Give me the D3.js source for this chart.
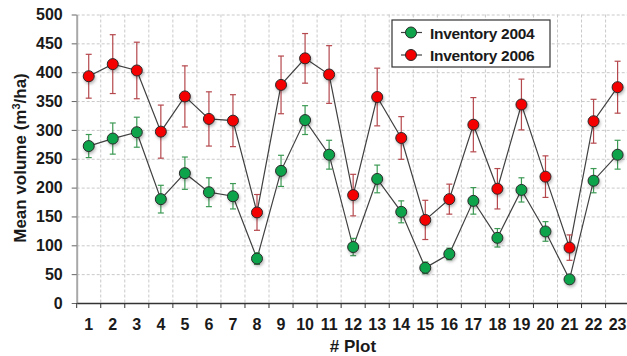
<!DOCTYPE html>
<html>
<head>
<meta charset="utf-8">
<script src="https://cdn.jsdelivr.net/npm/d3@7"></script>
<style>
  html, body { margin: 0; padding: 0; background: #fff; }
  svg { display: block; font-family: "Liberation Sans", Arial, sans-serif; }
</style>
</head>
<body>
<svg id="chart" width="627" height="356"></svg>
<script>
// Plot numbers along the x axis
const plots = ["1","2","3","4","5","6","7","8","9","10","11","12","13","14","15","16","17","18","19","20","21","22","23"];

// Mean standing volume (m3/ha) per plot and its error (half bar length)
const mean2004 = [272, 285, 296, 180, 225, 192, 185, 77, 229, 317, 257, 97, 215, 158, 61, 85, 177, 113, 196, 124, 41, 212, 257];
const err2004  = [20, 27, 26, 24, 28, 25, 22, 10, 27, 25, 25, 15, 24, 19, 10, 10, 23, 16, 21, 17, 7, 21, 25];
const mean2006 = [393, 414, 403, 297, 358, 319, 316, 157, 378, 424, 396, 187, 357, 286, 144, 180, 309, 198, 344, 219, 96, 315, 374];
const err2006  = [38, 51, 49, 46, 53, 47, 45, 31, 50, 43, 50, 36, 50, 37, 34, 26, 47, 35, 44, 36, 22, 38, 45];

const yTicks = [0, 50, 100, 150, 200, 250, 300, 350, 400, 450, 500];
const seriesNames = ["Inventory 2004", "Inventory 2006"];

const svg = d3.select("#chart");
const plotLeft = 76.7, plotBottom = 303, plotTop = 14.5, bandW = 24.04;

const x = d3.scaleBand().domain(plots).range([plotLeft, plotLeft + bandW * plots.length]).padding(0);
const y = d3.scaleLinear().domain([0, 500]).range([plotBottom, plotTop]);

// soft drop shadow under markers
const defs = svg.append("defs");
const f = defs.append("filter").attr("id", "shadow").attr("x", "-50%").attr("y", "-50%").attr("width", "200%").attr("height", "200%");
f.append("feDropShadow").attr("dx", 1).attr("dy", 2).attr("stdDeviation", 1.6)
  .attr("flood-color", "#000").attr("flood-opacity", 0.28);

// grid
const grid = svg.append("g").attr("stroke", "#c9c9c9").attr("stroke-width", 1).attr("stroke-dasharray", "3,2");
grid.selectAll("line.h").data(yTicks.filter(d => d > 0)).join("line")
  .attr("x1", plotLeft).attr("x2", x.range()[1])
  .attr("y1", d => y(d) + 0.5).attr("y2", d => y(d) + 0.5);
grid.selectAll("line.v").data(plots.slice(1)).join("line")
  .attr("x1", d => x(d)).attr("x2", d => x(d))
  .attr("y1", plotTop).attr("y2", plotBottom);

// y axis
const yAxis = svg.append("g").attr("transform", `translate(${plotLeft},0)`)
  .call(d3.axisLeft(y).tickValues(yTicks).tickSize(5).tickPadding(9).tickSizeOuter(0));
yAxis.select(".domain").attr("stroke", "#a8a8a8").attr("stroke-width", 2);
yAxis.selectAll(".tick line").attr("stroke", "#666");
yAxis.selectAll("text").attr("font-size", 16).attr("font-weight", "bold").attr("fill", "#1a1a1a")
  .attr("font-family", "'Liberation Sans', Arial, sans-serif");

// x axis: labels centred on plots, ticks on plot boundaries
const xAxis = svg.append("g").attr("transform", `translate(0,${plotBottom})`)
  .call(d3.axisBottom(x).tickSize(0).tickPadding(16).tickSizeOuter(0));
xAxis.select(".domain").attr("stroke", "#333").attr("stroke-width", 1.5);
xAxis.selectAll("text").attr("font-size", 16).attr("font-weight", "bold").attr("fill", "#1a1a1a")
  .attr("font-family", "'Liberation Sans', Arial, sans-serif");
svg.append("g").selectAll("line").data(plots).join("line")
  .attr("x1", d => x(d)).attr("x2", d => x(d))
  .attr("y1", plotBottom).attr("y2", plotBottom + 5)
  .attr("stroke", "#333").attr("stroke-width", 1);

// axis titles
const yTitle = svg.append("text")
  .attr("transform", `translate(26,158) rotate(-90)`)
  .attr("text-anchor", "middle").attr("font-size", 17).attr("font-weight", "bold").attr("fill", "#1a1a1a");
yTitle.append("tspan").text("Mean volume (m");
yTitle.append("tspan").text("3").attr("font-size", 11).attr("dy", -6);
yTitle.append("tspan").text("/ha)").attr("dy", 6);

svg.append("text").attr("x", 353).attr("y", 352).attr("text-anchor", "middle")
  .attr("font-size", 17).attr("font-weight", "bold").attr("fill", "#1a1a1a").text("# Plot");

// series
const series = [
  { name: seriesNames[0], mean: mean2004, err: err2004, fill: "#0fa34c", bar: "#3d9a55" },
  { name: seriesNames[1], mean: mean2006, err: err2006, fill: "#f40000", bar: "#b5484d" }
];
const cx = d => x(d) + x.bandwidth() / 2;
const line = d3.line().x(d => cx(d.p)).y(d => y(d.v));

series.forEach(s => {
  const pts = plots.map((p, i) => ({ p, v: s.mean[i], e: s.err[i] }));
  const g = svg.append("g");
  g.append("path").datum(pts).attr("d", line)
    .attr("fill", "none").attr("stroke", "#404040").attr("stroke-width", 1.2);
  const eb = g.append("g").attr("stroke", s.bar).attr("stroke-width", 1.2);
  eb.selectAll("line.v").data(pts).join("line")
    .attr("x1", d => cx(d.p)).attr("x2", d => cx(d.p))
    .attr("y1", d => y(d.v + d.e)).attr("y2", d => y(d.v - d.e));
  eb.selectAll("line.t").data(pts).join("line")
    .attr("x1", d => cx(d.p) - 3).attr("x2", d => cx(d.p) + 3)
    .attr("y1", d => y(d.v + d.e)).attr("y2", d => y(d.v + d.e));
  eb.selectAll("line.b").data(pts).join("line")
    .attr("x1", d => cx(d.p) - 3).attr("x2", d => cx(d.p) + 3)
    .attr("y1", d => y(d.v - d.e)).attr("y2", d => y(d.v - d.e));
  g.selectAll("circle").data(pts).join("circle")
    .attr("cx", d => cx(d.p)).attr("cy", d => y(d.v)).attr("r", 5.5)
    .attr("fill", s.fill).attr("stroke", "#2a2a2a").attr("stroke-width", 1)
    .attr("filter", "url(#shadow)");
});

// legend
const lg = svg.append("g").attr("transform", "translate(392,20)");
lg.append("rect").attr("width", 158).attr("height", 47).attr("fill", "#fff")
  .attr("stroke", "#333").attr("stroke-width", 1.2);
series.forEach((s, i) => {
  const row = lg.append("g").attr("transform", `translate(0,${12.5 + i * 22.5})`);
  row.append("line").attr("x1", 9).attr("x2", 30).attr("y1", 0).attr("y2", 0)
    .attr("stroke", "#404040").attr("stroke-width", 1.2);
  row.append("circle").attr("cx", 19).attr("cy", 0).attr("r", 5.5)
    .attr("fill", s.fill).attr("stroke", "#2a2a2a").attr("stroke-width", 1);
  row.append("text").attr("x", 38).attr("y", 6).attr("font-size", 15.5).attr("font-weight", "bold")
    .attr("fill", "#1a1a1a").attr("letter-spacing", -0.3).text(s.name);
});
</script>
</body>
</html>
